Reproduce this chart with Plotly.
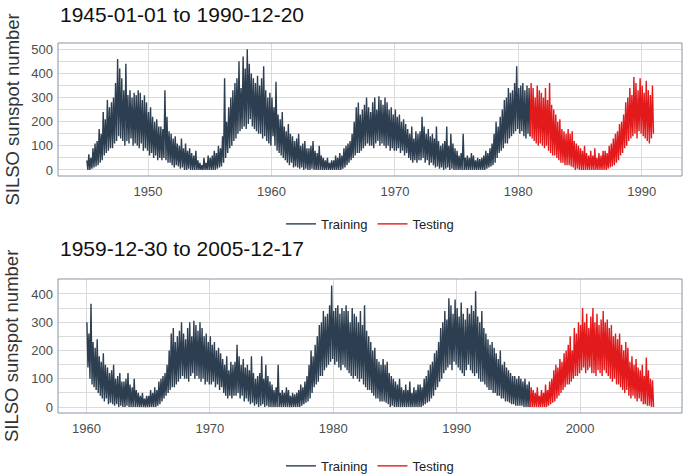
import pandas as pd
import plotly.graph_objects as go

# ---- data: per year, 6 bimonthly daily highs and lows ----
years = list(range(1945, 2006))

bimonthly_high = [
    40, 65, 50, 90, 110, 120,        # 1945
    170, 150, 240, 210, 290, 260,    # 1946
    280, 300, 360, 460, 420, 380,    # 1947
    330, 440, 310, 330, 300, 320,    # 1948
    310, 330, 320, 290, 310, 280,    # 1949
    240, 260, 220, 200, 210, 180,    # 1950
    180, 170, 330, 220, 160, 150,    # 1951
    130, 140, 110, 100, 130, 90,     # 1952
    110, 80, 90, 70, 60, 80,         # 1953
    40, 30, 20, 50, 30, 60,          # 1954
    50, 60, 80, 70, 100, 90,         # 1955
    140, 380, 200, 260, 300, 330,    # 1956
    360, 380, 450, 340, 470, 420,    # 1957
    500, 440, 400, 380, 360, 390,    # 1958
    350, 380, 430, 330, 300, 320,    # 1959
    300, 260, 365, 230, 210, 240,    # 1960
    180, 160, 190, 150, 140, 120,    # 1961
    130, 150, 100, 110, 120, 90,     # 1962
    90, 100, 120, 80, 70, 100,       # 1963
    60, 50, 40, 50, 30, 40,          # 1964
    40, 60, 50, 70, 60, 90,          # 1965
    100, 110, 120, 150, 200, 260,    # 1966
    280, 230, 250, 270, 300, 260,    # 1967
    240, 280, 300, 250, 305, 290,    # 1968
    270, 300, 280, 250, 260, 230,    # 1969
    250, 220, 230, 200, 210, 190,    # 1970
    170, 150, 180, 130, 160, 150,    # 1971
    160, 220, 180, 150, 170, 140,    # 1972
    150, 130, 180, 120, 100, 110,    # 1973
    120, 180, 100, 150, 110, 90,     # 1974
    80, 60, 70, 150, 50, 60,         # 1975
    50, 70, 60, 40, 50, 45,          # 1976
    50, 60, 80, 70, 90, 110,         # 1977
    150, 200, 180, 220, 250, 290,    # 1978
    300, 340, 320, 330, 360, 430,    # 1979
    340, 350, 360, 330, 350, 340,    # 1980
    360, 340, 300, 350, 330, 320,    # 1981
    300, 340, 290, 360, 270, 250,    # 1982
    230, 200, 210, 170, 160, 150,    # 1983
    170, 150, 160, 120, 110, 100,    # 1984
    90, 80, 100, 70, 60, 80,         # 1985
    60, 90, 50, 70, 60, 80,          # 1986
    80, 70, 100, 110, 130, 150,      # 1987
    160, 190, 200, 230, 280, 300,    # 1988
    340, 310, 385, 360, 330, 380,    # 1989
    350, 320, 370, 330, 310, 350,    # 1990
    330, 360, 340, 410, 320, 300,    # 1991
    340, 280, 260, 240, 220, 230,    # 1992
    210, 190, 170, 200, 150, 160,    # 1993
    140, 130, 120, 110, 110, 100,    # 1994
    110, 100, 90, 100, 80, 90,       # 1995
    70, 60, 50, 70, 40, 60,          # 1996
    50, 80, 60, 90, 100, 130,        # 1997
    150, 140, 170, 160, 190, 200,    # 1998
    220, 250, 200, 280, 260, 300,    # 1999
    290, 350, 300, 330, 280, 320,    # 2000
    350, 300, 330, 290, 310, 340,    # 2001
    300, 310, 280, 290, 250, 260,    # 2002
    240, 260, 220, 200, 230, 210,    # 2003
    160, 180, 150, 170, 140, 130,    # 2004
    150, 110, 175, 130, 100, 95,     # 2005
]

bimonthly_low = [
    0, 0, 5, 10, 15, 20,             # 1945
    30, 40, 60, 70, 80, 90,          # 1946
    90, 110, 120, 140, 130, 120,     # 1947
    100, 120, 110, 130, 100, 110,    # 1948
    100, 90, 110, 80, 90, 80,        # 1949
    60, 70, 50, 60, 40, 50,          # 1950
    40, 50, 40, 30, 30, 20,          # 1951
    10, 20, 15, 5, 10, 0,            # 1952
    0, 5, 0, 0, 0, 0,                # 1953
    0, 0, 0, 0, 0, 0,                # 1954
    0, 0, 0, 5, 10, 15,              # 1955
    30, 50, 70, 90, 100, 120,        # 1956
    130, 150, 160, 170, 180, 170,    # 1957
    190, 210, 180, 170, 160, 150,    # 1958
    150, 130, 140, 120, 110, 100,    # 1959
    140, 100, 80, 70, 60, 50,        # 1960
    40, 30, 20, 30, 10, 15,          # 1961
    10, 5, 10, 0, 5, 0,              # 1962
    0, 5, 0, 0, 0, 0,                # 1963
    0, 0, 0, 0, 0, 0,                # 1964
    0, 0, 0, 0, 5, 10,               # 1965
    20, 30, 40, 50, 60, 70,          # 1966
    70, 80, 90, 100, 110, 100,       # 1967
    100, 90, 110, 120, 100, 110,     # 1968
    100, 90, 100, 80, 90, 80,        # 1969
    80, 90, 70, 80, 60, 70,          # 1970
    50, 40, 30, 40, 30, 40,          # 1971
    40, 50, 30, 40, 20, 30,          # 1972
    20, 10, 15, 5, 10, 0,            # 1973
    5, 10, 0, 5, 0, 0,               # 1974
    0, 0, 0, 0, 0, 0,                # 1975
    0, 0, 0, 0, 0, 0,                # 1976
    0, 0, 5, 10, 15, 20,             # 1977
    30, 50, 70, 80, 90, 110,         # 1978
    110, 130, 140, 150, 160, 170,    # 1979
    150, 160, 140, 130, 150, 140,    # 1980
    130, 120, 110, 100, 110, 100,    # 1981
    90, 100, 80, 70, 60, 60,         # 1982
    50, 40, 30, 30, 20, 20,          # 1983
    20, 15, 10, 0, 5, 0,             # 1984
    0, 0, 0, 0, 0, 0,                # 1985
    0, 0, 0, 0, 0, 0,                # 1986
    0, 5, 10, 15, 20, 30,            # 1987
    40, 60, 70, 90, 100, 120,        # 1988
    130, 140, 150, 130, 160, 150,    # 1989
    140, 130, 120, 110, 130, 150,    # 1990
    130, 120, 110, 120, 100, 90,     # 1991
    90, 80, 70, 60, 60, 50,          # 1992
    50, 40, 40, 30, 30, 20,          # 1993
    20, 15, 10, 10, 5, 5,            # 1994
    5, 5, 0, 0, 0, 0,                # 1995
    0, 0, 0, 0, 0, 0,                # 1996
    0, 0, 5, 10, 15, 20,             # 1997
    30, 40, 50, 60, 70, 80,          # 1998
    80, 90, 100, 110, 110, 120,      # 1999
    130, 140, 120, 130, 140, 120,    # 2000
    120, 110, 130, 120, 110, 130,    # 2001
    120, 110, 100, 90, 100, 80,      # 2002
    80, 70, 60, 50, 60, 40,          # 2003
    30, 40, 30, 20, 30, 20,          # 2004
    10, 10, 5, 5, 0, 0,              # 2005
]

panel_titles = ["1945-01-01 to 1990-12-20", "1959-12-30 to 2005-12-17"]
panel_start = ["1945-01-01", "1959-12-30"]
panel_end = ["1990-12-20", "2005-12-17"]
test_start = ["1980-12-21", "1995-12-18"]
series_names = ["Training", "Testing"]
series_colors = ["#2C3E50", "#E31A1C"]

# ---- build the time series (high in odd month, low in even month of each bimonth) ----
dates, values = [], []
for i, yr in enumerate(years):
    for k in range(6):
        dates.append(pd.Timestamp(year=yr, month=2 * k + 1, day=15))
        values.append(bimonthly_high[i * 6 + k])
        dates.append(pd.Timestamp(year=yr, month=2 * k + 2, day=15))
        values.append(bimonthly_low[i * 6 + k])
df = pd.DataFrame({"date": dates, "value": values})

fig = go.Figure()
axis_ids = [("x", "y"), ("x2", "y2")]
legend_ids = ["legend", "legend2"]
for p in range(2):
    s, e, t = pd.Timestamp(panel_start[p]), pd.Timestamp(panel_end[p]), pd.Timestamp(test_start[p])
    sub = df[(df.date >= s - pd.Timedelta(days=14)) & (df.date <= e + pd.Timedelta(days=10))].copy()
    sub["date"] = sub["date"].clip(lower=s, upper=e)
    train = sub[sub.date < t]
    test = pd.concat([train.tail(1), sub[sub.date >= t]])
    for name, part, col in zip(series_names, [train, test], series_colors):
        fig.add_trace(go.Scatter(
            x=part.date, y=part.value, mode="lines", name=name,
            line=dict(color=col, width=1.4),
            xaxis=axis_ids[p][0], yaxis=axis_ids[p][1], legend=legend_ids[p],
        ))

def xr(p):
    s, e = pd.Timestamp(panel_start[p]), pd.Timestamp(panel_end[p])
    pad = (e - s) * 0.05
    return [s - pad, e + pad]

grid = "#DADADA"
tickfont = dict(family="Liberation Sans, Arial, sans-serif", size=13, color="#4D4D4D")
common_x = dict(showgrid=True, gridcolor=grid, gridwidth=1, tickfont=tickfont,
                showline=False, zeroline=False, ticks="", tickformat="%Y", dtick="M120",
                mirror=False, ticklabelstandoff=6)
common_y = dict(showgrid=True, gridcolor=grid, gridwidth=1, tickfont=tickfont,
                showline=False, zeroline=False, ticks="", dtick=100, ticklabelstandoff=4,
                minor=dict(dtick=50, showgrid=True, gridcolor=grid, gridwidth=1))

top_dom = [0.6405, 1.0]
bot_dom = [0.0, 0.3622]
fig.update_layout(
    width=685, height=475,
    margin=dict(l=58, r=3, t=43, b=62, autoexpand=False),
    plot_bgcolor="white", paper_bgcolor="white",
    font=dict(family="Liberation Sans, Arial, sans-serif", color="#333333"),
    xaxis=dict(common_x, domain=[0, 1], anchor="y", range=xr(0), tick0="1950-01-01"),
    yaxis=dict(common_y, domain=top_dom, anchor="x", range=[-25, 526]),
    xaxis2=dict(common_x, domain=[0, 1], anchor="y2", range=xr(1), tick0="1960-01-01"),
    yaxis2=dict(common_y, domain=bot_dom, anchor="x2", range=[-21, 453]),
    legend=dict(orientation="h", x=0.5, xanchor="center", y=0.511, yanchor="middle",
                font=dict(size=13, color="#222222"), bgcolor="rgba(0,0,0,0)"),
    legend2=dict(orientation="h", x=0.5, xanchor="center", y=-0.143, yanchor="middle",
                 font=dict(size=13, color="#222222"), bgcolor="rgba(0,0,0,0)"),
    showlegend=True,
)

# panel borders
for dom in [top_dom, bot_dom]:
    fig.add_shape(type="rect", xref="paper", yref="paper", x0=0, x1=1, y0=dom[0], y1=dom[1],
                  line=dict(color="#8795A3", width=1), fillcolor="rgba(0,0,0,0)", layer="above")

# titles and y-axis titles
for p, (ty, yc) in enumerate([(1.0757, (top_dom[0] + top_dom[1]) / 2), (0.4459, (bot_dom[0] + bot_dom[1]) / 2)]):
    fig.add_annotation(text=panel_titles[p], xref="paper", yref="paper", x=0.0, y=ty,
                       xanchor="left", yanchor="middle", align="left", showarrow=False,
                       font=dict(size=21, color="#111111"))
    fig.add_annotation(text="SILSO sunspot number", xref="paper", yref="paper", x=-0.0737, y=yc,
                       xanchor="center", yanchor="middle", textangle=-90, showarrow=False,
                       font=dict(size=18.5, color="#333333"))

fig.write_html("out.html", config={"displayModeBar": False},
               post_script="document.body.style.margin='0';document.body.style.padding='0';")
